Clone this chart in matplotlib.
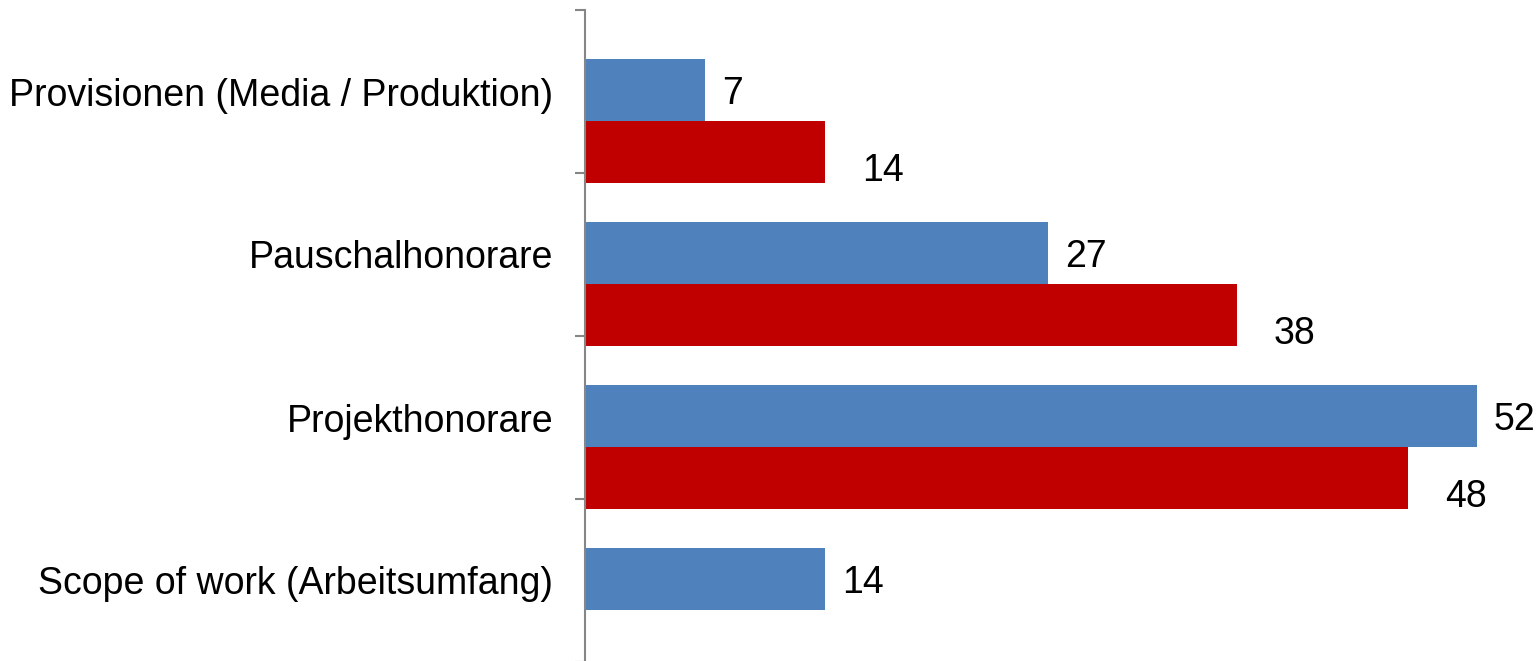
import matplotlib
matplotlib.use("Agg")
import matplotlib.pyplot as plt
import numpy as np

categories = ["Provisionen (Media / Produktion)", "Pauschalhonorare",
              "Projekthonorare", "Scope of work (Arbeitsumfang)"]
series_a = [7, 27, 52, 14]          # blue series
series_b = [14, 38, 48, None]       # red series (no value for last category)

blue = "#4F81BD"
red = "#C00000"
axis_grey = "#868686"

plt.rcParams["font.family"] = ["Liberation Sans", "DejaVu Sans"]

W, H = 1539, 661
fig = plt.figure(figsize=(W / 100, H / 100), dpi=100)
left_px, top_px, bottom_px = 585, 10, 662
ax = fig.add_axes([left_px / W, (H - bottom_px) / H,
                   (W - left_px) / W, (bottom_px - top_px) / H])

n = len(categories)
pos = np.arange(n)
bar_h = 0.38
blue_c = pos + 0.49
red_c = pos + 0.87

ax.barh(blue_c, series_a, height=bar_h, color=blue, zorder=2)
red_idx = [i for i, v in enumerate(series_b) if v is not None]
ax.barh(red_c[red_idx], [series_b[i] for i in red_idx], height=bar_h,
        color=red, zorder=2)

fs = 27
for i, v in enumerate(series_a):
    ax.annotate(str(v), xy=(v, blue_c[i]), xytext=(12.2, -3),
                textcoords="offset points", va="center", ha="left",
                fontsize=fs, color="black", annotation_clip=False)
for i in red_idx:
    v = series_b[i]
    ax.annotate(str(v), xy=(v, red_c[i]), xytext=(26.6, -13.7),
                textcoords="offset points", va="center", ha="left",
                fontsize=fs, color="black", annotation_clip=False)

ax.set_xlim(0, (W - left_px) / 17.15)
ax.set_ylim(n, 0)

for s in ["top", "right", "bottom"]:
    ax.spines[s].set_visible(False)
ax.spines["left"].set_color(axis_grey)
ax.spines["left"].set_linewidth(1.5)

ax.set_xticks([])
ax.set_yticks(np.arange(n + 1))
ax.set_yticklabels([])
ax.set_yticks(pos + 0.5, minor=True)
ax.set_yticklabels(categories, minor=True, fontsize=fs)
ax.tick_params(axis="y", which="major", length=7.2, width=1.5,
               color=axis_grey, direction="out")
ax.tick_params(axis="y", which="minor", length=0, pad=23)

fig.savefig("out.png", dpi=100)
